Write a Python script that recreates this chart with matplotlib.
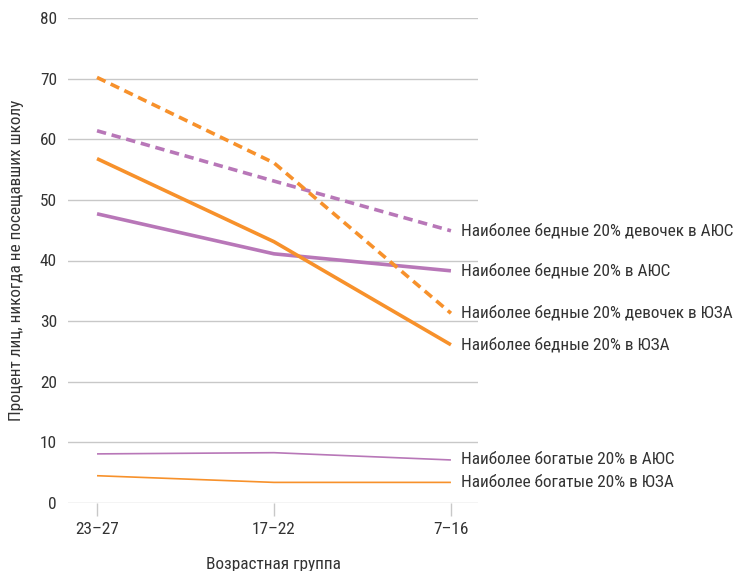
import matplotlib
matplotlib.use("Agg")
import matplotlib.pyplot as plt
from matplotlib import font_manager
from matplotlib.font_manager import FontProperties
from matplotlib.textpath import TextPath
from matplotlib.ft2font import FT2Font

# Age groups (x axis) and series values (% never attended school)
age_groups = ["23–27", "17–22", "7–16"]

poorest_girls_sa = [61.4, 53.1, 44.9]
poorest_sa = [47.7, 41.1, 38.3]
poorest_girls_ssa = [70.2, 56.1, 31.3]
poorest_ssa = [56.8, 43.1, 26.1]
richest_sa = [8.1, 8.3, 7.1]
richest_ssa = [4.5, 3.4, 3.4]

labels = [
    "Наиболее бедные 20% девочек в АЮС",
    "Наиболее бедные 20% в АЮС",
    "Наиболее бедные 20% девочек в ЮЗА",
    "Наиболее бедные 20% в ЮЗА",
    "Наиболее богатые 20% в АЮС",
    "Наиболее богатые 20% в ЮЗА",
]
ylabel = "Процент лиц, никогда не посещавших школу"
xlabel = "Возрастная группа"

yticks = [0, 10, 20, 30, 40, 50, 60, 70, 80]

ORANGE = "#F7912B"
PURPLE = "#B877B8"
TEXT = "#333333"

DPI = 100
CAP_PX = 12.0          # height of capitals / digits in pixels
SAMPLE = "Наиболее бедные 20% девочек в АЮС"
TARGET_W = 282.0       # pixel width of the sample string
TARGET_RATIO = TARGET_W / CAP_PX

needed = set("".join(labels) + ylabel + xlabel + "".join(age_groups) + "0123456789")
needed.discard(" ")

# plain grotesque families only, narrow cuts first
PREFERRED = ("Roboto Condensed", "Liberation Sans Narrow", "Open Sans Condensed",
             "Noto Sans Condensed", "Noto Sans SemiCondensed", "Roboto",
             "Liberation Sans", "Noto Sans", "Open Sans", "DejaVu Sans")


def covers(fname):
    try:
        ft = FT2Font(fname)
        return all(ft.get_char_index(ord(c)) != 0 for c in needed)
    except Exception:
        return False


def regular(f):
    return f.style == "normal" and f.weight in (400, "normal", "regular")


FNAME = None
for fam in PREFERRED:
    for f in font_manager.fontManager.ttflist:
        if f.name == fam and regular(f) and covers(f.fname):
            FNAME = f.fname
            break
    if FNAME:
        break
if FNAME is None:
    FNAME = font_manager.findfont("DejaVu Sans")

fp100 = FontProperties(fname=FNAME, size=100)
W_PER_PT = TextPath((0, 0), SAMPLE, prop=fp100).get_extents().width / 100.0
H_PER_PT = TextPath((0, 0), "80", prop=fp100).get_extents().height / 100.0
px = DPI / 72.0
size_h = CAP_PX / (H_PER_PT * px)
size_w = TARGET_W / (W_PER_PT * px)
FS = min(0.5 * (size_h + size_w), size_w)


def fprop(size=FS):
    return FontProperties(fname=FNAME, size=size)


fig = plt.figure(figsize=(7.47, 5.71), dpi=DPI)
W, H = 747, 571
ax = fig.add_axes([68 / W, 1 - 503 / H, (478 - 68) / W, (503 - 18) / H])

x = list(range(len(age_groups)))
DASH = (0, (2.6, 1.6))
series = [
    (poorest_girls_sa, PURPLE, 2.6, DASH),
    (poorest_sa, PURPLE, 2.6, "-"),
    (poorest_girls_ssa, ORANGE, 2.6, DASH),
    (poorest_ssa, ORANGE, 2.6, "-"),
    (richest_sa, PURPLE, 1.2, "-"),
    (richest_ssa, ORANGE, 1.2, "-"),
]
for (vals, col, lw, ls), lab in zip(series, labels):
    ax.plot(x, vals, color=col, lw=lw, ls=ls, solid_capstyle="butt",
            dash_capstyle="butt", zorder=3)
    ax.annotate(lab, xy=(x[-1], vals[-1]), xytext=(7, 0),
                textcoords="offset points", va="center", ha="left",
                fontproperties=fprop(), color=TEXT, annotation_clip=False)

ax.set_xlim(-0.164, 2.153)
ax.set_ylim(0, 80)
ax.set_yticks(yticks)
ax.set_xticks(x)
ax.set_xticklabels(age_groups)
for t in ax.get_xticklabels() + ax.get_yticklabels():
    t.set_fontproperties(fprop())
    t.set_color(TEXT)
ax.grid(axis="y", color="#c8c8c8", lw=1.0, zorder=0)
ax.set_axisbelow(True)
for s in ax.spines.values():
    s.set_visible(False)
ax.tick_params(axis="y", length=0, pad=8)
ax.tick_params(axis="x", length=9, width=1, color="#c8c8c8", pad=5)

ax.set_ylabel(ylabel, fontproperties=fprop(), color=TEXT, labelpad=11)
ax.set_xlabel(xlabel, fontproperties=fprop(), color=TEXT, labelpad=14)

fig.savefig("out.png", dpi=DPI)
